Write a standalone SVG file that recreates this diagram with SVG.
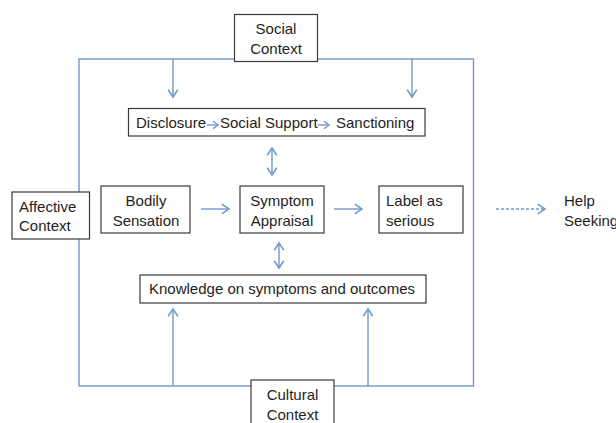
<svg xmlns="http://www.w3.org/2000/svg" width="616" height="423" viewBox="0 0 616 423">
<style>
.box{fill:#fff;stroke:#3a3a3a;stroke-width:1.2}
.ln{fill:none;stroke:#7398cc;stroke-width:1.4}
.dash{stroke-dasharray:3,2}
text{font-family:"Liberation Sans",Arial,sans-serif;font-size:15px;fill:#1e1e1e}
.c{text-anchor:middle}
</style>
<defs>
<marker id="ah" markerUnits="userSpaceOnUse" markerWidth="12" markerHeight="12" refX="7" refY="5" orient="auto-start-reverse" viewBox="0 0 10 10">
<path d="M1,1 L7,5 L1,9" fill="none" stroke="#7398cc" stroke-width="1.3"/>
</marker>
<marker id="ahs" markerUnits="userSpaceOnUse" markerWidth="10" markerHeight="10" refX="5" refY="4" orient="auto" viewBox="0 0 8 8">
<path d="M1,1 L5,4 L1,7" fill="none" stroke="#7398cc" stroke-width="1.2"/>
</marker>
</defs>
<g id="connectors">
<rect class="ln" x="79" y="59" width="394.5" height="327"/>
<line class="ln" x1="173" y1="59" x2="173" y2="97" marker-end="url(#ah)"/>
<line class="ln" x1="412" y1="59" x2="412" y2="97" marker-end="url(#ah)"/>
<line class="ln" x1="173" y1="386" x2="173" y2="309" marker-end="url(#ah)"/>
<line class="ln" x1="368" y1="386" x2="368" y2="309" marker-end="url(#ah)"/>
<line class="ln" x1="272" y1="148" x2="272" y2="175" marker-start="url(#ah)" marker-end="url(#ah)"/>
<line class="ln" x1="279" y1="243" x2="279" y2="268" marker-start="url(#ah)" marker-end="url(#ah)"/>
<line class="ln" x1="201" y1="209" x2="229" y2="209" marker-end="url(#ah)"/>
<line class="ln" x1="334" y1="209" x2="362" y2="209" marker-end="url(#ah)"/>
<line class="ln dash" x1="496" y1="209" x2="545" y2="209" marker-end="url(#ah)"/>
</g>
<g id="social">
<rect class="box" x="234.5" y="14.5" width="83" height="47"/>
<text class="c" x="276" y="34">Social</text>
<text class="c" x="276" y="54">Context</text>
</g>
<g id="chain">
<rect class="box" x="128.5" y="108.5" width="296.5" height="27.5"/>
<text x="136" y="128">Disclosure</text>
<text x="220" y="128">Social Support</text>
<text x="336" y="128">Sanctioning</text>
<line class="ln" x1="207" y1="125" x2="218" y2="125" stroke-width="1.1" marker-end="url(#ahs)"/>
<line class="ln" x1="318" y1="125" x2="329" y2="125" stroke-width="1.1" marker-end="url(#ahs)"/>
</g>
<g id="affective">
<rect class="box" x="12" y="192" width="77.5" height="47"/>
<text x="19" y="212">Affective</text>
<text x="19" y="231">Context</text>
</g>
<g id="bodily">
<rect class="box" x="101" y="186" width="89" height="47"/>
<text class="c" x="146" y="206">Bodily</text>
<text class="c" x="146" y="226">Sensation</text>
</g>
<g id="appraisal">
<rect class="box" x="240" y="186" width="84" height="47"/>
<text class="c" x="282" y="206">Symptom</text>
<text class="c" x="282" y="226">Appraisal</text>
</g>
<g id="label">
<rect class="box" x="379" y="186" width="84" height="47"/>
<text x="386" y="206">Label as</text>
<text x="386" y="226">serious</text>
</g>
<g id="help">
<text x="564" y="206">Help</text>
<text x="564" y="226">Seeking</text>
</g>
<g id="knowledge">
<rect class="box" x="140" y="275" width="286" height="28"/>
<text class="c" x="282" y="294">Knowledge on symptoms and outcomes</text>
</g>
<g id="cultural">
<rect class="box" x="251" y="380" width="83" height="50"/>
<text class="c" x="292.5" y="400">Cultural</text>
<text class="c" x="292.5" y="420">Context</text>
</g>
</svg>
